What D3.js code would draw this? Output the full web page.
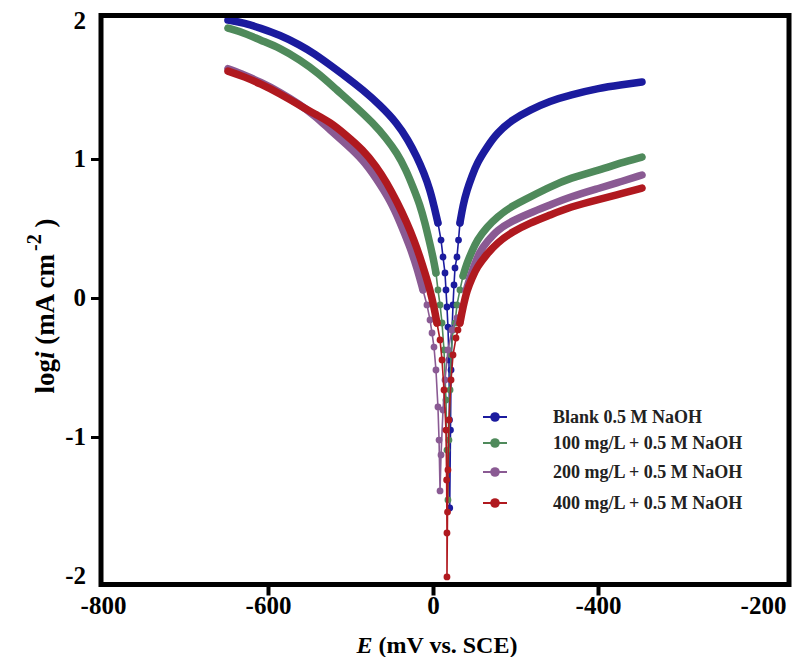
<!DOCTYPE html>
<html><head><meta charset="utf-8">
<script src="https://cdn.jsdelivr.net/npm/d3@7"></script>
<style>body{margin:0;background:#fff}svg{display:block}text{font-family:'Liberation Serif','Times New Roman',serif;}</style>
</head><body><svg id="c" width="795" height="657"></svg>
<script>
// ---- data ----
const xTickValues = [-800, -650, -500, -350, -200];
const xTickLabels = ["-800", "-600", "0", "-400", "-200"];
const yTickValues = [2, 1, 0, -1, -2];
const yTickLabels = ["2", "1", "0", "-1", "-2"];
const seriesNames = ["Blank 0.5 M NaOH", "100 mg/L + 0.5 M NaOH", "200 mg/L + 0.5 M NaOH", "400 mg/L + 0.5 M NaOH"];

const blank = [[-686.4,2.00],[-670.9,1.978],[-657.3,1.942],[-639.1,1.892],[-620.9,1.820],[-607.3,1.755],[-593.6,1.676],[-580.0,1.597],[-563.6,1.496],[-548.2,1.388],[-532.7,1.259],[-522.7,1.137],[-514.5,1.014],[-508.2,0.899],[-502.7,0.777],[-499.1,0.662],[-495.5,0.540],[-492.7,0.417],[-490.9,0.295],[-489.1,0.180],[-488.2,0.058],[-487.3,-0.065],[-486.4,-0.209],[-485.5,-0.446],[-485.0,-0.878],[-484.8,-1.511],[-484.1,-0.950],[-483.6,-0.518],[-482.7,-0.230],[-481.8,-0.050],[-480.9,0.094],[-480.0,0.216],[-478.2,0.295],[-476.8,0.417],[-475.5,0.540],[-472.7,0.669],[-469.1,0.777],[-464.5,0.878],[-460.0,0.971],[-450.9,1.086],[-441.8,1.187],[-428.2,1.281],[-411.8,1.353],[-393.6,1.417],[-375.5,1.460],[-348.2,1.511],[-330.0,1.532],[-310.0,1.554]];

const mg100 = [[-686.4,1.942],[-670.9,1.906],[-657.3,1.856],[-639.1,1.799],[-620.9,1.712],[-604.5,1.619],[-587.3,1.496],[-570.9,1.381],[-554.5,1.259],[-542.7,1.151],[-532.7,1.043],[-524.5,0.921],[-518.2,0.799],[-511.8,0.669],[-507.3,0.540],[-503.6,0.417],[-500.0,0.295],[-497.3,0.180],[-495.5,0.058],[-493.6,-0.050],[-491.8,-0.180],[-490.0,-0.374],[-488.2,-0.734],[-487.3,-1.094],[-486.4,-1.453],[-485.5,-1.022],[-484.5,-0.662],[-483.6,-0.410],[-481.8,-0.230],[-480.0,-0.180],[-478.2,-0.050],[-475.5,0.058],[-472.7,0.158],[-469.1,0.252],[-464.5,0.338],[-460.0,0.417],[-450.9,0.511],[-441.8,0.583],[-428.2,0.662],[-411.8,0.727],[-393.6,0.799],[-375.5,0.863],[-348.2,0.921],[-330.0,0.971],[-310.0,1.014]];

const mg200 = [[-686.4,1.650],[-670.9,1.602],[-657.3,1.555],[-639.1,1.482],[-620.9,1.392],[-607.3,1.310],[-593.6,1.209],[-579.1,1.108],[-563.6,0.993],[-551.8,0.863],[-539.1,0.705],[-530.0,0.547],[-520.9,0.367],[-514.5,0.216],[-509.1,0.058],[-505.5,-0.050],[-502.7,-0.158],[-500.9,-0.252],[-499.1,-0.353],[-497.3,-0.518],[-495.5,-0.784],[-494.5,-1.022],[-493.6,-1.388],[-492.7,-1.129],[-490.9,-0.806],[-489.1,-0.590],[-486.4,-0.374],[-482.7,-0.230],[-478.2,-0.144],[-473.6,-0.065],[-470.0,0.050],[-466.4,0.151],[-457.3,0.345],[-450.9,0.403],[-441.8,0.489],[-428.2,0.554],[-411.8,0.612],[-393.6,0.669],[-375.5,0.727],[-348.2,0.791],[-330.0,0.835],[-310.0,0.885]];

const mg400 = [[-686.4,1.632],[-670.9,1.590],[-657.3,1.542],[-639.1,1.470],[-620.9,1.385],[-607.3,1.322],[-593.6,1.266],[-579.1,1.173],[-563.6,1.065],[-551.8,0.950],[-541.8,0.827],[-532.7,0.691],[-523.6,0.540],[-517.3,0.417],[-511.8,0.295],[-507.3,0.180],[-502.7,0.058],[-499.1,-0.065],[-496.4,-0.180],[-493.6,-0.302],[-491.8,-0.446],[-490.0,-0.662],[-488.2,-0.950],[-487.6,-1.309],[-487.3,-1.691],[-487.3,-2.007],[-486.8,-1.540],[-486.4,-1.237],[-485.5,-0.878],[-483.6,-0.590],[-481.8,-0.410],[-479.1,-0.288],[-477.3,-0.230],[-475.5,-0.180],[-472.7,-0.065],[-469.1,0.058],[-464.5,0.144],[-460.0,0.223],[-450.9,0.317],[-441.8,0.396],[-428.2,0.475],[-411.8,0.540],[-393.6,0.597],[-375.5,0.655],[-348.2,0.712],[-330.0,0.748],[-310.0,0.791]];

// ---- rendering ----
const series = [
  {name: seriesNames[0], data: blank, color: "#1b1b9e", cutoff: 0.45},
  {name: seriesNames[1], data: mg100, color: "#4f8a5b", cutoff: 0.1},
  {name: seriesNames[2], data: mg200, color: "#8a5a93", cutoff: 0.0},
  {name: seriesNames[3], data: mg400, color: "#b0191f", cutoff: -0.2}
];

const svg = d3.select("#c");
const FONT = "'Liberation Serif','Times New Roman',serif";
const L = 101, R = 789, T = 15.5, B = 584.5;

const x = d3.scaleLinear().domain([-800, -200]).range([103, 763]);
const y = d3.scaleLinear().domain([-2.065, 2.036]).range([585, 15]);

const g = svg.append("g");
const thick = d3.line().x(d => x(d[0])).y(d => y(d[1])).curve(d3.curveBasis);
const thin = d3.line().x(d => x(d[0])).y(d => y(d[1]));

series.forEach(s => {
  const d = s.data;
  const i0 = d.findIndex(p => p[1] < s.cutoff);
  const i1 = d.length - 1 - [...d].reverse().findIndex(p => p[1] < s.cutoff);
  const left = d.slice(0, i0);
  const right = d.slice(i1 + 1);
  const mid = d.slice(i0 - 1, i1 + 2);
  const sg = g.append("g");
  [left, right].forEach(part => {
    sg.append("path").attr("d", thick(part)).attr("fill", "none")
      .attr("stroke", s.color).attr("stroke-width", 7.5)
      .attr("stroke-linecap", "round").attr("stroke-linejoin", "round");
  });
  sg.append("path").attr("d", thin(mid)).attr("fill", "none")
    .attr("stroke", s.color).attr("stroke-width", 1.6);
  sg.selectAll("circle").data(mid).join("circle")
    .attr("cx", p => x(p[0])).attr("cy", p => y(p[1])).attr("r", 3.4)
    .attr("fill", s.color);
});

// frame
svg.append("rect").attr("x", L).attr("y", T).attr("width", R - L).attr("height", B - T)
  .attr("fill", "none").attr("stroke", "#000").attr("stroke-width", 5);

// x axis
const xa = svg.append("g").attr("transform", `translate(0,${B})`)
  .call(d3.axisBottom(x).tickValues(xTickValues).tickFormat((d, i) => xTickLabels[i])
    .tickSizeInner(11).tickSizeOuter(0).tickPadding(1));
xa.select(".domain").remove();
xa.selectAll(".tick line").attr("stroke", "#000").attr("stroke-width", 4)
  .style("display", (d, i) => (i === 0 || i === xTickValues.length - 1) ? "none" : null);
xa.selectAll(".tick text").style("font-family", FONT).attr("font-size", 25)
  .attr("font-weight", "bold").attr("fill", "#000");

// y axis
const ya = svg.append("g").attr("transform", `translate(${L},0)`)
  .call(d3.axisLeft(y).tickValues(yTickValues).tickFormat((d, i) => yTickLabels[i])
    .tickSizeInner(10).tickSizeOuter(0).tickPadding(5));
ya.select(".domain").remove();
ya.selectAll(".tick line").attr("stroke", "#000").attr("stroke-width", 3)
  .style("display", (d, i) => (i === 0 || i === yTickValues.length - 1) ? "none" : null);
ya.selectAll(".tick text").style("font-family", FONT).attr("font-size", 25)
  .attr("font-weight", "bold").attr("fill", "#000");

// axis titles
const xt = svg.append("text").attr("x", 437).attr("y", 653).attr("text-anchor", "middle")
  .style("font-family", FONT).attr("font-size", 24).attr("font-weight", "bold");
xt.append("tspan").attr("font-style", "italic").text("E");
xt.append("tspan").text(" (mV vs. SCE)");

const yt = svg.append("text").attr("transform", "translate(54,306) rotate(-90)")
  .attr("text-anchor", "middle")
  .style("font-family", FONT).attr("font-size", 27).attr("font-weight", "bold");
yt.append("tspan").text("log");
yt.append("tspan").attr("font-style", "italic").text("i");
yt.append("tspan").text(" (mA cm");
yt.append("tspan").attr("dy", -13).attr("dx", 3).attr("font-size", 20).text("-2");
yt.append("tspan").attr("dy", 13).text("  )");

// legend
const legY = [417, 443, 472, 503];
const lg = svg.append("g");
series.forEach((s, i) => {
  lg.append("line").attr("x1", 483).attr("x2", 507).attr("y1", legY[i]).attr("y2", legY[i])
    .attr("stroke", s.color).attr("stroke-width", 2);
  lg.append("circle").attr("cx", 495).attr("cy", legY[i]).attr("r", 4.8).attr("fill", s.color);
  lg.append("text").attr("x", 553).attr("y", legY[i]).attr("dy", "0.35em")
    .style("font-family", FONT).attr("font-size", 18).attr("font-weight", "bold")
    .attr("fill", "#222").text(s.name);
});
</script>
</body></html>
